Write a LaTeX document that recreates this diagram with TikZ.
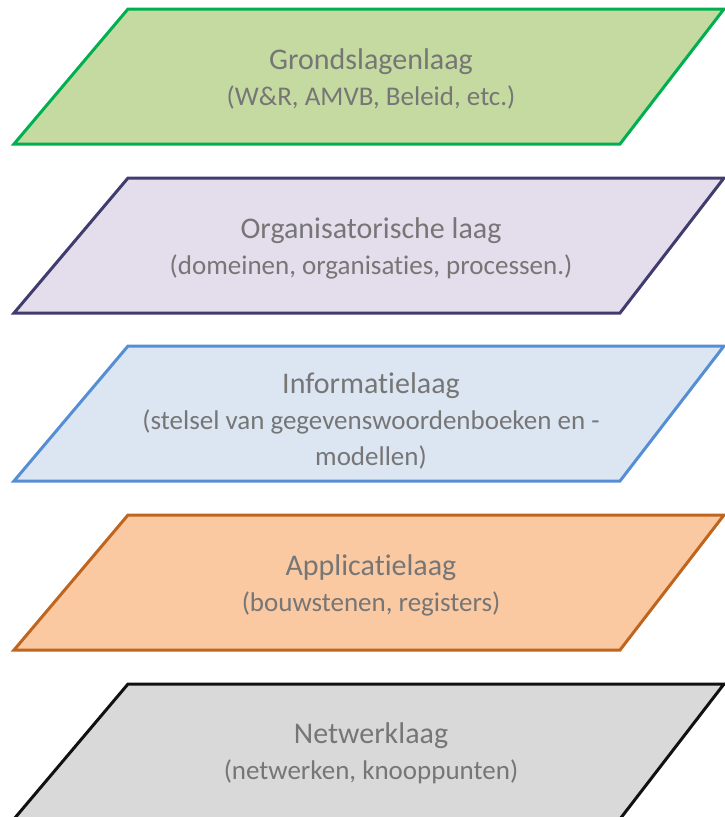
\documentclass[tikz,border=0pt]{standalone}
\usepackage{fontspec}
\setmainfont{Carlito}[Ligatures={NoCommon}]
\usepackage{tikz}
\usetikzlibrary{positioning}
\definecolor{grondfill}{HTML}{C5DAA0}
\definecolor{grondline}{HTML}{00B050}
\definecolor{orgfill}{HTML}{E3DDEC}
\definecolor{orgline}{HTML}{403C6E}
\definecolor{infofill}{HTML}{DCE6F2}
\definecolor{infoline}{HTML}{558ED5}
\definecolor{appfill}{HTML}{FAC9A2}
\definecolor{appline}{HTML}{C0651E}
\definecolor{netfill}{HTML}{D9D9D9}
\definecolor{netline}{HTML}{111111}
\definecolor{laagtext}{HTML}{767676}
\tikzset{
  laag/.style={line width=3pt,line join=miter},
  laagtekst/.style={align=center,text=laagtext,inner sep=0pt},
  kop/.style={font=\fontsize{30}{36}\selectfont},
}
\newcommand{\sub}{\fontsize{27}{36}\selectfont}

\begin{document}
\begin{tikzpicture}[x=1pt,y=-1pt]
  \useasboundingbox (0,0) rectangle (724,817);
  % vijf lagen, van boven naar beneden
  \foreach \t/\kl in {9/grond,178/org,346/info,515/app,684/net}
    \draw[laag,fill=\kl fill,draw=\kl line]
      (128,\t) -- (724,\t) -- (620,\t+135) -- (14,\t+135) -- cycle;
  \node[laagtekst,kop] (grond) at (371,79)
    {Grondslagenlaag\\\sub (W\&R, AMVB, Beleid, etc.)};
  \node[laagtekst,kop] (org) at (371,248)
    {Organisatorische laag\\\sub (domeinen, organisaties, processen.)};
  \node[laagtekst,kop] (info) at (371,421)
    {Informatielaag\\\sub (stelsel van gegevenswoordenboeken en -\\\sub modellen)};
  \node[laagtekst,kop] (app) at (371,585)
    {Applicatielaag\\\sub (bouwstenen, registers)};
  \node[laagtekst,kop] (net) at (371,753)
    {Netwerklaag\\\sub (netwerken, knooppunten)};
\end{tikzpicture}
\end{document}
